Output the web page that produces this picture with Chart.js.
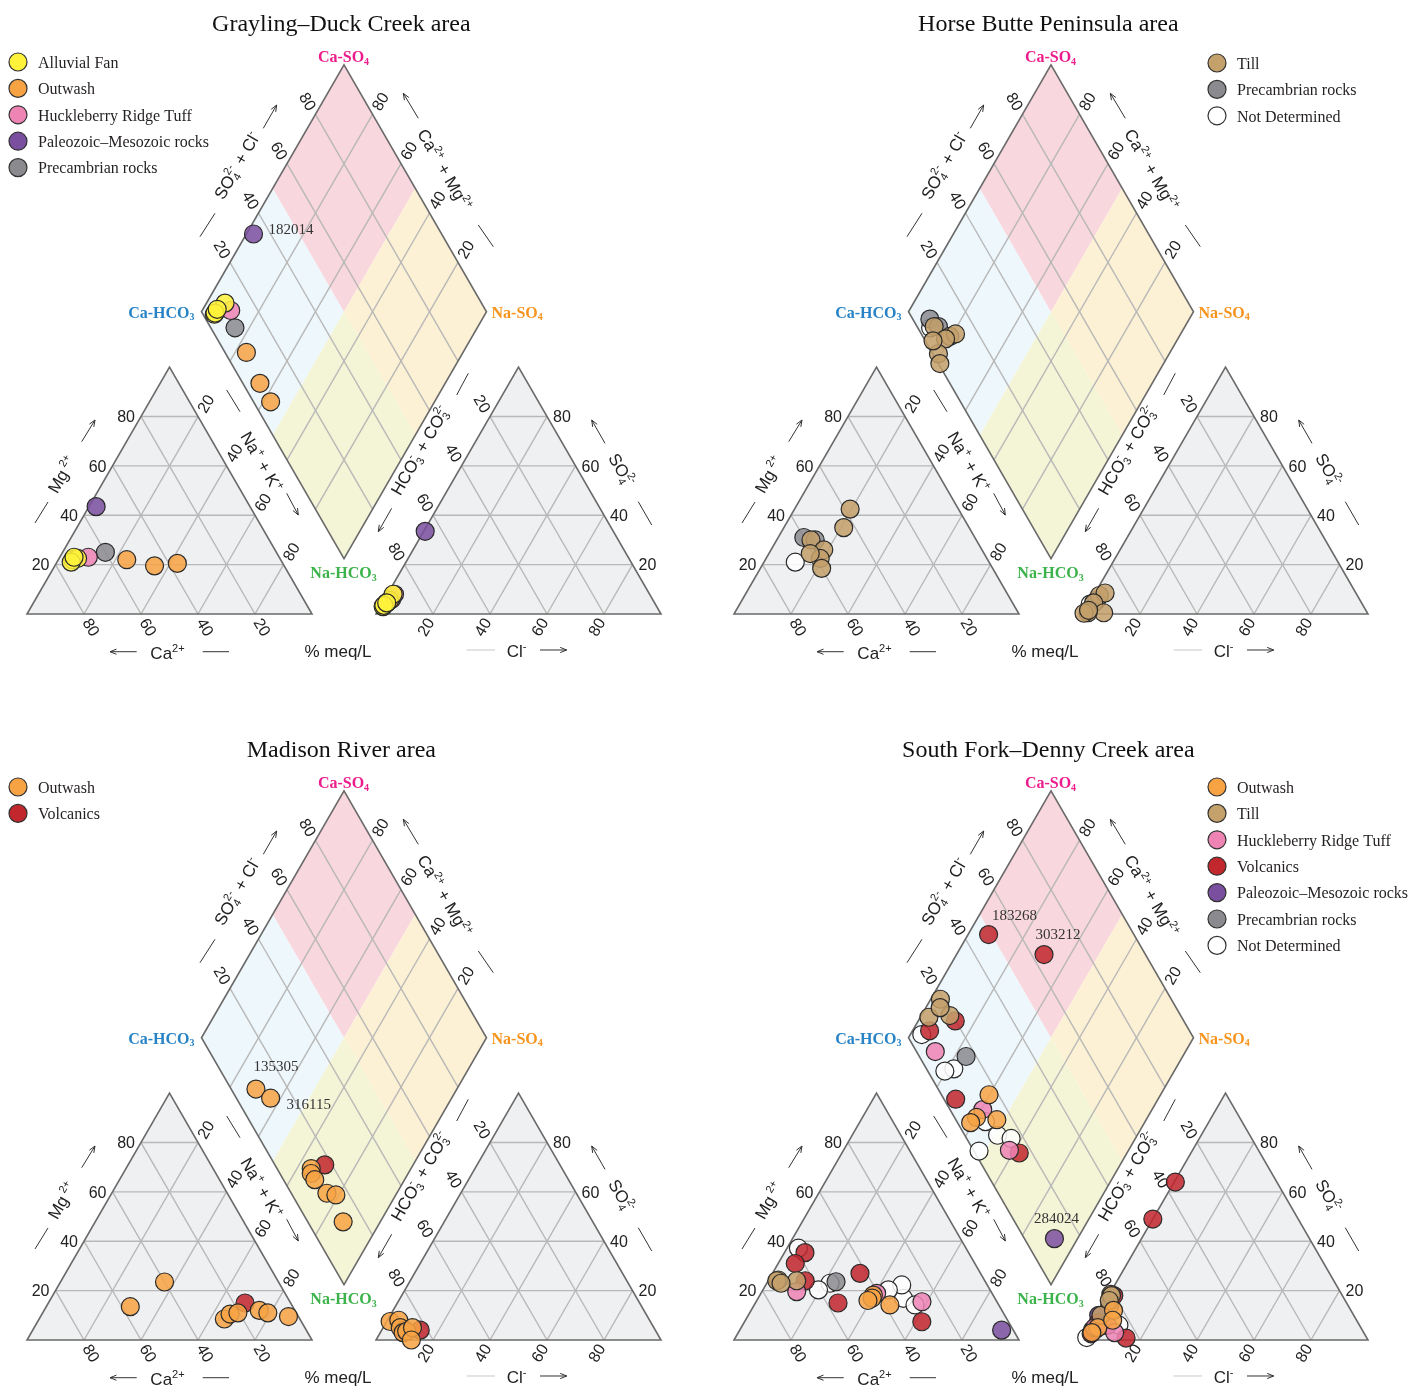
<!DOCTYPE html>
<html>
<head>
<meta charset="utf-8">
<script src="https://cdn.jsdelivr.net/npm/chart.js@4.4.0/dist/chart.umd.min.js"></script>
<style>
html,body{margin:0;padding:0;background:#fff;width:1410px;height:1388px;overflow:hidden;}
.panel{position:absolute;}
canvas{display:block;}
</style>
</head>
<body>
<div class="panel" style="left:0;top:0"><canvas id="gd" width="705" height="662"></canvas></div>
<div class="panel" style="left:707px;top:0"><canvas id="hb" width="703" height="662"></canvas></div>
<div class="panel" style="left:0;top:726px"><canvas id="mr" width="705" height="662"></canvas></div>
<div class="panel" style="left:707px;top:726px"><canvas id="sf" width="703" height="662"></canvas></div>
<script>
// ---------------------------------------------------------------------------
// Sample compositions, percent of milliequivalents per litre
// ---------------------------------------------------------------------------
const tickValues = [20, 40, 60, 80];

// Grayling–Duck Creek area
const gdGroups = ['Alluvial Fan', 'Outwash', 'Huckleberry Ridge Tuff', 'Paleozoic–Mesozoic rocks', 'Precambrian rocks'];
const gdGroup = [0, 0, 0, 0, 1, 1, 1, 2, 3, 4];
const gdCa   = [73, 71, 74, 72, 54, 45.5, 37, 67, 54, 60];
const gdMg   = [22, 22.5, 21, 23, 22, 19.5, 20.5, 23, 43.5, 25];
const gdNaK  = [5, 6.5, 5, 5, 24, 35, 42.5, 10, 2.5, 15];
const gdHCO3 = [96, 90, 95.5, 94, 92.5, 94, 94, 89.5, 66, 91.5];
const gdCl   = [1, 2, 1, 1.5, 2, 1.5, 1.5, 2.5, 0.5, 2.5];
const gdSO4  = [3, 8, 3.5, 4.5, 5.5, 4.5, 4.5, 8, 33.5, 6];
const gdIds  = ['', '', '', '', '', '', '', '', '182014', ''];

// Horse Butte Peninsula area
const hbGroups = ['Till', 'Precambrian rocks', 'Not Determined'];
const hbGroup = [0, 0, 0, 0, 0, 0, 0, 1, 1, 2];
const hbCa   = [38, 44, 58, 55.5, 58.5, 60, 61, 60, 56.5, 68];
const hbMg   = [42.5, 35, 30, 26, 22.5, 18.5, 24.5, 31, 30, 21];
const hbNaK  = [19.5, 21, 12, 18.5, 19, 21.5, 14.5, 9, 13.5, 11];
const hbHCO3 = [90.5, 88, 94, 92.5, 98, 99.5, 97.3, 94, 92.5, 95.5];
const hbCl   = [2, 3.5, 1.5, 7, 1.5, 0.2, 1.2, 1.5, 2, 0.5];
const hbSO4  = [7.5, 8.5, 4.5, 0.5, 0.5, 0.3, 1.5, 4.5, 5.5, 4];
const hbIds  = ['', '', '', '', '', '', '', '', '', ''];

// Madison River area
const mrGroups = ['Outwash', 'Volcanics'];
const mrGroup = [0, 0, 0, 0, 0, 0, 0, 0, 1];
const mrCa   = [57, 40, 26.5, 23.5, 20.5, 12.5, 10, 3.5, 16];
const mrMg   = [13.5, 23.5, 8.5, 10.5, 11, 12, 11, 9.5, 15];
const mrNaK  = [29.5, 36.5, 65, 66, 68.5, 75.5, 79, 87, 69];
const mrHCO3 = [91.3, 88, 88, 89, 89, 87.5, 84.7, 87.6, 82.5];
const mrCl   = [1.2, 4, 8, 6, 8, 9, 10.3, 12.4, 13.5];
const mrSO4  = [7.5, 8, 4, 5, 3, 3.5, 5, 0, 4];
const mrIds  = ['135305', '316115', '', '', '', '', '', '', ''];

// South Fork–Denny Creek area
const sfGroups = ['Outwash', 'Till', 'Huckleberry Ridge Tuff', 'Volcanics', 'Paleozoic–Mesozoic rocks', 'Precambrian rocks', 'Not Determined'];
const sfGroup = [0, 0, 0, 0, 1, 1, 1, 1, 2, 2, 2, 3, 3, 3, 3, 3, 3, 4, 5, 6, 6, 6, 6, 6, 6, 6];
const sfCa   = [42, 43, 45, 38.2, 72.3, 66, 73, 72, 68.2, 40.5, 26.3, 57.4, 42.3, 63, 63, 56, 30.4, 4.1, 52.4, 58.8, 54.8, 60.2, 32.1, 29.4, 30, 35.7];
const sfMg   = [18.2, 17, 16, 14.2, 24.3, 24, 24, 23, 19.6, 18.9, 15.5, 35.4, 27, 31, 24, 15, 7.4, 4, 23.6, 37.2, 23, 20.3, 16.9, 14.2, 22.3, 20.3];
const sfNaK  = [39.8, 40, 39, 47.6, 3.4, 10, 3, 5, 12.2, 40.6, 58.2, 7.2, 30.7, 6, 13, 29, 62.2, 91.9, 24, 4, 22.2, 19.5, 51, 56.4, 47.7, 44];
const sfHCO3 = [83.3, 92.3, 95.4, 85.6, 81, 81, 88.7, 82.8, 93.4, 88.5, 87.4, 51, 35.6, 91.2, 80.2, 95.9, 84.5, 89.5, 83.6, 94.7, 90.4, 94, 88.5, 84.4, 98.2, 90];
const sfCl   = [4.7, 2.7, 1.6, 6.4, 0.5, 1, 1.3, 1.2, 1.6, 5.5, 9.6, 0, 0.4, 1.8, 1.8, 1.6, 14.7, 0.5, 2.4, 1.3, 2.1, 2, 5.5, 9.6, 0.8, 4];
const sfSO4  = [12, 5, 3, 8, 18.5, 18, 10, 16, 5, 6, 3, 49, 64, 7, 18, 2.5, 0.8, 10, 14, 4, 7.5, 4, 6, 6, 1, 6];
const sfIds  = ['', '', '', '', '', '', '', '', '', '', '', '183268', '303212', '', '', '', '', '284024', '', '', '', '', '', '', '', ''];

// ---------------------------------------------------------------------------
// Styles
// ---------------------------------------------------------------------------
const GROUP_FILL = {
  'Alluvial Fan': '#fff23a',
  'Outwash': '#f7a344',
  'Huckleberry Ridge Tuff': '#ee84b4',
  'Paleozoic–Mesozoic rocks': '#7b4fa0',
  'Precambrian rocks': '#8b8b8f',
  'Till': '#c4a06a',
  'Volcanics': '#c1272d',
  'Not Determined': '#ffffff'
};
const SANS = '"Liberation Sans", Arial, sans-serif';
const SERIF = '"Liberation Serif", "Times New Roman", serif';
const INK = '#222';

// sample number labels: pixel offset from the diamond marker
const idLabelPlace = {
  '182014': [15, -5, 'left'],
  '135305': [20, -23, 'center'],
  '316115': [16, 5, 'left'],
  '183268': [26, -20, 'center'],
  '303212': [14, -21, 'center'],
  '284024': [2, -21, 'center']
};

// ---------------------------------------------------------------------------
// Piper geometry, in plot units (triangle side = 100)
// ---------------------------------------------------------------------------
const SIDE = 100, GAP = 22.46, R3 = Math.sqrt(3) / 2;
const PPU = 2.85;                 // pixels per plot unit
const ORIGIN_X = 27, ORIGIN_Y = 614;  // canvas position of the Ca vertex

const CAT = [[0, 0], [SIDE, 0], [SIDE / 2, SIDE * R3]];           // Ca, Na+K, Mg
const AN0 = SIDE + GAP;
const ANI = [[AN0, 0], [AN0 + SIDE, 0], [AN0 + SIDE / 2, SIDE * R3]]; // HCO3, Cl, SO4
const DB = [SIDE + GAP / 2, GAP * R3];
const DL = [DB[0] - SIDE / 2, DB[1] + SIDE * R3];
const DR = [DB[0] + SIDE / 2, DB[1] + SIDE * R3];
const DT = [DB[0], DB[1] + 2 * SIDE * R3];
const DC = [DB[0], DB[1] + SIDE * R3];
const lerp = (a, b, t) => [a[0] + (b[0] - a[0]) * t, a[1] + (b[1] - a[1]) * t];

function cationXY(ca, mg, na) {
  const s = ca + mg + na;
  const m = mg / s * 100, n = na / s * 100;
  return {x: n + m / 2, y: m * R3};
}
function anionXY(hco3, cl, so4) {
  const s = hco3 + cl + so4;
  const c = cl / s * 100, o = so4 / s * 100;
  return {x: AN0 + c + o / 2, y: o * R3};
}
function diamondXY(ca, mg, na, hco3, cl, so4) {
  const cs = ca + mg + na, as = hco3 + cl + so4;
  const camg = (ca + mg) / cs * 100;
  const socl = (so4 + cl) / as * 100;
  return {x: DB[0] + (socl - camg) / 2, y: DB[1] + (socl + camg) * R3};
}

// decorations around the plot (plot units)
const DECOR = {
  mgTitle: [12.28, 49.12], mgArrow: [[19.19, 60.46], [23.86, 68.07]], mgDash: [[2.81, 31.93], [7.37, 39.30]],
  caTitle: [49.47, -13.68], caArrow: [[38.49, -13.23], [29.12, -13.23]], caDash: [[61.65, -13.23], [70.88, -13.23]],
  naTitle: [82.46, 53.33], naDash: [[70.07, 78.6], [74.74, 70.98]], naArrow: [[91.12, 42.35], [95.19, 34.74]],
  unit: [109.12, -12.98],
  clTitle: [171.93, -12.98], clDash: [[154.28, -12.63], [164.21, -12.63]], clArrow: [[180, -12.63], [189.37, -12.63]],
  soTitle: [208.77, 50.53], soArrow: [[202.81, 59.89], [198.14, 68.07]], soDash: [[214.49, 39.4], [219.19, 31.23]],
  hcTitle: [137.89, 57.54], hcDash: [[150.77, 76.84], [154.84, 84.46]], hcArrow: [[127.96, 37.09], [123.26, 28.88]],
  dsTitle: [73.68, 157.54], dsArrow: [[82.91, 170.42], [87.61, 178.6]], dsDash: [[60.7, 132.39], [65.96, 140.6]],
  dcTitle: [146.67, 155.79], dcArrow: [[137.3, 173.93], [132.04, 182.7]], dcDash: [[158.35, 136.49], [163.61, 128.88]],
  title: [110.3, 207.5]
};

// ---------------------------------------------------------------------------
// Drawing helpers
// ---------------------------------------------------------------------------
function rich(ctx, parts, x, y, ang, size, family, color, align, weight) {
  const small = Math.round(size * 0.62);
  const w8 = weight ? weight + ' ' : '';
  const big = w8 + size + 'px ' + family, sm = w8 + small + 'px ' + family;
  ctx.save();
  ctx.translate(x, y);
  ctx.rotate(ang * Math.PI / 180);
  ctx.fillStyle = color;
  ctx.textBaseline = 'alphabetic';
  ctx.textAlign = 'left';
  const items = [];
  let w = 0;
  for (const p of parts) {
    if (typeof p === 'string') {
      ctx.font = big; const ww = ctx.measureText(p).width;
      items.push({t: [p], f: big, dy: [0], w: ww}); w += ww;
    } else if (p.sup !== undefined) {
      ctx.font = sm; const ww = ctx.measureText(p.sup).width + 1;
      items.push({t: [p.sup], f: sm, dy: [-size * 0.42], w: ww}); w += ww;
    } else if (p.sub !== undefined) {
      ctx.font = sm; const ww = ctx.measureText(p.sub).width + 1;
      items.push({t: [p.sub], f: sm, dy: [size * 0.18], w: ww}); w += ww;
    } else if (p.ss) {
      ctx.font = sm;
      const ww = Math.max(ctx.measureText(p.ss[0]).width, ctx.measureText(p.ss[1]).width) + 1;
      items.push({t: p.ss, f: sm, dy: [size * 0.2, -size * 0.45], w: ww}); w += ww;
    }
  }
  let cx = align === 'center' ? -w / 2 : (align === 'right' ? -w : 0);
  const base = size * 0.36;
  for (const it of items) {
    ctx.font = it.f;
    it.t.forEach((t, i) => ctx.fillText(t, cx, base + it.dy[i]));
    cx += it.w;
  }
  ctx.restore();
}

function line(ctx, a, b) {
  ctx.beginPath(); ctx.moveTo(a[0], a[1]); ctx.lineTo(b[0], b[1]); ctx.stroke();
}
function arrow(ctx, a, b) {
  line(ctx, a, b);
  const ang = Math.atan2(b[1] - a[1], b[0] - a[0]);
  const L = 7, sp = 0.38;
  ctx.beginPath();
  ctx.moveTo(b[0] - L * Math.cos(ang - sp), b[1] - L * Math.sin(ang - sp));
  ctx.lineTo(b[0], b[1]);
  ctx.lineTo(b[0] - L * Math.cos(ang + sp), b[1] - L * Math.sin(ang + sp));
  ctx.stroke();
}
function poly(ctx, pts) {
  ctx.beginPath();
  pts.forEach((p, i) => i ? ctx.lineTo(p[0], p[1]) : ctx.moveTo(p[0], p[1]));
  ctx.closePath();
}

// ---------------------------------------------------------------------------
// Plugin that draws the Piper frame, labels and legend
// ---------------------------------------------------------------------------
function piperPlugin(cfg) {
  return {
    id: 'piperFrame',
    beforeDatasetsDraw(chart) {
      const ctx = chart.ctx;
      const xs = chart.scales.x, ys = chart.scales.y;
      const P = (p) => [xs.getPixelForValue(p[0]), ys.getPixelForValue(p[1])];
      ctx.save();
      ctx.lineCap = 'butt';

      // triangles
      for (const tri of [CAT, ANI]) {
        poly(ctx, tri.map(P)); ctx.fillStyle = '#eff0f2'; ctx.fill();
      }
      // diamond quadrants
      const mUL = lerp(DL, DT, 0.5), mUR = lerp(DT, DR, 0.5), mLL = lerp(DL, DB, 0.5), mLR = lerp(DB, DR, 0.5);
      const quads = [
        [[DL, mUL, DC, mLL], '#eef7fb'],
        [[mUL, DT, mUR, DC], '#f9d7de'],
        [[DC, mUR, DR, mLR], '#fdf1d5'],
        [[mLL, DC, mLR, DB], '#f4f5d6']
      ];
      for (const [q, c] of quads) { poly(ctx, q.map(P)); ctx.fillStyle = c; ctx.fill(); }

      // grids
      ctx.strokeStyle = '#b8b8b8'; ctx.lineWidth = 1.4;
      for (const k of tickValues) {
        const t = k / 100;
        for (const tri of [CAT, ANI]) {
          const [a, b, c] = tri;
          line(ctx, P(lerp(a, c, t)), P(lerp(b, c, t)));
          line(ctx, P(lerp(a, b, t)), P(lerp(a, c, t)));
          line(ctx, P(lerp(a, b, t)), P(lerp(b, c, 1 - t)));
        }
        line(ctx, P(lerp(DL, DT, t)), P(lerp(DB, DR, t)));
        line(ctx, P(lerp(DL, DB, t)), P(lerp(DT, DR, t)));
      }
      // outlines
      ctx.strokeStyle = '#6a6a6a'; ctx.lineWidth = 1.6; ctx.lineJoin = 'miter';
      poly(ctx, CAT.map(P)); ctx.stroke();
      poly(ctx, ANI.map(P)); ctx.stroke();
      poly(ctx, [DL, DT, DR, DB].map(P)); ctx.stroke();

      // tick labels
      const off = (p, dx, dy) => { const q = P(p); return [q[0] + dx, q[1] + dy]; };
      const dl = 15, ux = dl * 0.5, uy = dl * R3;
      for (const k of tickValues) {
        const t = k / 100, s = String(k);
        let q;
        q = off(lerp(CAT[0], CAT[2], t), -6, 0); rich(ctx, [s], q[0], q[1], 0, 16, SANS, INK, 'right');
        q = off(lerp(CAT[1], CAT[0], t), ux, uy); rich(ctx, [s], q[0], q[1], 60, 16, SANS, INK, 'center');
        q = off(lerp(CAT[2], CAT[1], t), ux, -uy); rich(ctx, [s], q[0], q[1], -60, 16, SANS, INK, 'center');
        q = off(lerp(ANI[2], ANI[0], t), -ux, -uy); rich(ctx, [s], q[0], q[1], 60, 16, SANS, INK, 'center');
        q = off(lerp(ANI[0], ANI[1], t), -ux, uy); rich(ctx, [s], q[0], q[1], -60, 16, SANS, INK, 'center');
        q = off(lerp(ANI[1], ANI[2], t), 6, 0); rich(ctx, [s], q[0], q[1], 0, 16, SANS, INK, 'left');
        q = off(lerp(DL, DT, t), -ux, -uy); rich(ctx, [s], q[0], q[1], 60, 16, SANS, INK, 'center');
        q = off(lerp(DR, DT, t), ux, -uy); rich(ctx, [s], q[0], q[1], -60, 16, SANS, INK, 'center');
      }

      // axis titles with arrows
      const D = DECOR;
      let q;
      q = P(D.mgTitle); rich(ctx, ['Mg', {sup: ' 2+'}], q[0], q[1], -60, 17, SANS, INK, 'center');
      q = P(D.caTitle); rich(ctx, ['Ca', {sup: '2+'}], q[0], q[1], 0, 17, SANS, INK, 'center');
      q = P(D.naTitle); rich(ctx, ['Na', {sup: '+'}, ' + K', {sup: '+'}], q[0], q[1], 60, 17, SANS, INK, 'center');
      q = P(D.unit); rich(ctx, ['% meq/L'], q[0], q[1], 0, 17, SANS, INK, 'center');
      q = P(D.clTitle); rich(ctx, ['Cl', {sup: '-'}], q[0], q[1], 0, 17, SANS, INK, 'center');
      q = P(D.soTitle); rich(ctx, ['SO', {ss: ['4', '2-']}], q[0], q[1], 60, 17, SANS, INK, 'center');
      q = P(D.hcTitle); rich(ctx, ['HCO', {ss: ['3', '-']}, ' + CO', {ss: ['3', '2-']}], q[0], q[1], -60, 17, SANS, INK, 'center');
      q = P(D.dsTitle); rich(ctx, ['SO', {ss: ['4', '2-']}, ' + Cl', {sup: '-'}], q[0], q[1], -60, 17, SANS, INK, 'center');
      q = P(D.dcTitle); rich(ctx, ['Ca', {sup: '2+'}, ' + Mg', {sup: '2+'}], q[0], q[1], 60, 17, SANS, INK, 'center');

      ctx.strokeStyle = '#333'; ctx.lineWidth = 1;
      for (const key of ['mgArrow', 'caArrow', 'naArrow', 'clArrow', 'soArrow', 'hcArrow', 'dsArrow', 'dcArrow']) {
        arrow(ctx, P(D[key][0]), P(D[key][1]));
      }
      for (const key of ['mgDash', 'caDash', 'naDash', 'soDash', 'hcDash', 'dsDash', 'dcDash']) {
        line(ctx, P(D[key][0]), P(D[key][1]));
      }
      ctx.strokeStyle = '#c8c8c8';
      line(ctx, P(D.clDash[0]), P(D.clDash[1]));

      // water-type corner labels
      q = off(DT, 0, -9); rich(ctx, ['Ca-SO', {sub: '4'}], q[0], q[1], 0, 16, SERIF, '#ec1c8c', 'center', 'bold');
      q = off(DL, -6, 0); rich(ctx, ['Ca-HCO', {sub: '3'}], q[0], q[1], 0, 16, SERIF, '#2783c6', 'right', 'bold');
      q = off(DR, 5, 0); rich(ctx, ['Na-SO', {sub: '4'}], q[0], q[1], 0, 16, SERIF, '#f7941d', 'left', 'bold');
      q = off(DB, 0, 14); rich(ctx, ['Na-HCO', {sub: '3'}], q[0], q[1], 0, 16, SERIF, '#3cb34a', 'center', 'bold');

      // panel title
      q = P(D.title); rich(ctx, [cfg.title], q[0], q[1], 0, 24, SERIF, '#111', 'center');

      // legend
      cfg.groups.forEach((g, i) => {
        const lx = cfg.legendX, ly = cfg.legendY + i * 26.4;
        ctx.beginPath(); ctx.arc(lx, ly, 9, 0, Math.PI * 2);
        ctx.fillStyle = GROUP_FILL[g]; ctx.fill();
        ctx.strokeStyle = '#333'; ctx.lineWidth = 1.2; ctx.stroke();
        rich(ctx, [g], lx + 20, ly, 0, 16, SERIF, '#231f20', 'left');
      });
      ctx.restore();
    },
    afterDatasetsDraw(chart) {
      const ctx = chart.ctx;
      const xs = chart.scales.x, ys = chart.scales.y;
      cfg.ids.forEach((id, i) => {
        if (!id) return;
        const d = diamondXY(cfg.ca[i], cfg.mg[i], cfg.na[i], cfg.hco3[i], cfg.cl[i], cfg.so4[i]);
        const [dx, dy, al] = idLabelPlace[id];
        rich(ctx, [id], xs.getPixelForValue(d.x) + dx, ys.getPixelForValue(d.y) + dy, 0, 15, SERIF, '#333', al);
      });
    }
  };
}

function hexA(hex, a) {
  const n = parseInt(hex.slice(1), 16);
  return `rgba(${(n >> 16) & 255},${(n >> 8) & 255},${n & 255},${a})`;
}

function makePiper(canvasId, cfg) {
  const canvas = document.getElementById(canvasId);
  const W = canvas.width, H = canvas.height;
  const xmin = -ORIGIN_X / PPU, xmax = xmin + W / PPU;
  const ymax = ORIGIN_Y / PPU, ymin = ymax - H / PPU;

  const datasets = cfg.groups.map((g, gi) => {
    const pts = [];
    cfg.group.forEach((gg, i) => {
      if (gg !== gi) return;
      pts.push(cationXY(cfg.ca[i], cfg.mg[i], cfg.na[i]));
      pts.push(anionXY(cfg.hco3[i], cfg.cl[i], cfg.so4[i]));
      pts.push(diamondXY(cfg.ca[i], cfg.mg[i], cfg.na[i], cfg.hco3[i], cfg.cl[i], cfg.so4[i]));
    });
    return {
      label: g,
      data: pts,
      pointRadius: 9,
      pointHoverRadius: 9,
      pointBackgroundColor: hexA(GROUP_FILL[g], 0.86),
      pointBorderColor: '#2a2a2a',
      pointBorderWidth: 1.2,
      showLine: false,
      clip: false
    };
  });

  return new Chart(canvas, {
    type: 'scatter',
    data: {datasets},
    options: {
      responsive: false,
      animation: false,
      events: [],
      layout: {padding: 0, autoPadding: false},
      scales: {
        x: {type: 'linear', min: xmin, max: xmax, display: false},
        y: {type: 'linear', min: ymin, max: ymax, display: false}
      },
      plugins: {legend: {display: false}, tooltip: {enabled: false}, title: {display: false}}
    },
    plugins: [piperPlugin(cfg)]
  });
}

makePiper('gd', {title: 'Grayling–Duck Creek area', groups: gdGroups, group: gdGroup,
  ca: gdCa, mg: gdMg, na: gdNaK, hco3: gdHCO3, cl: gdCl, so4: gdSO4, ids: gdIds, legendX: 18, legendY: 62});
makePiper('hb', {title: 'Horse Butte Peninsula area', groups: hbGroups, group: hbGroup,
  ca: hbCa, mg: hbMg, na: hbNaK, hco3: hbHCO3, cl: hbCl, so4: hbSO4, ids: hbIds, legendX: 510, legendY: 63});
makePiper('mr', {title: 'Madison River area', groups: mrGroups, group: mrGroup,
  ca: mrCa, mg: mrMg, na: mrNaK, hco3: mrHCO3, cl: mrCl, so4: mrSO4, ids: mrIds, legendX: 18, legendY: 61});
makePiper('sf', {title: 'South Fork–Denny Creek area', groups: sfGroups, group: sfGroup,
  ca: sfCa, mg: sfMg, na: sfNaK, hco3: sfHCO3, cl: sfCl, so4: sfSO4, ids: sfIds, legendX: 510, legendY: 61});
</script>
</body>
</html>
